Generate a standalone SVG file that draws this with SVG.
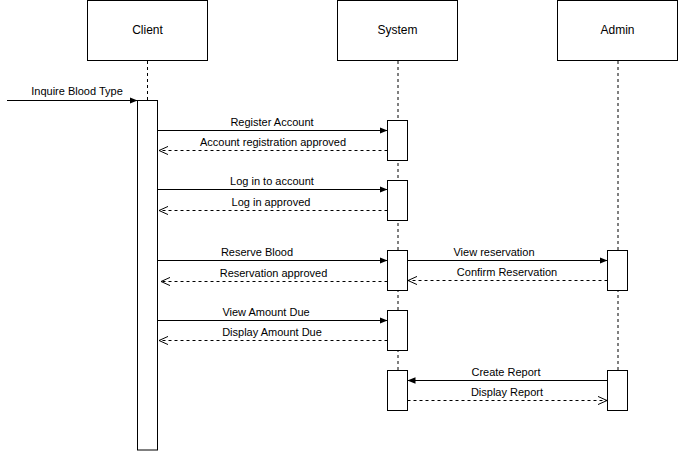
<svg xmlns="http://www.w3.org/2000/svg" width="678" height="452" viewBox="0 0 678 452">
<style>
.box{fill:#fff;stroke:#000;stroke-width:1}
.life{stroke:#000;stroke-width:1;stroke-dasharray:3 3;fill:none}
.msg{stroke:#000;stroke-width:1;fill:none}
.ret{stroke:#000;stroke-width:1;stroke-dasharray:3 3;fill:none}
.t{font-family:"Liberation Sans",Arial,sans-serif;font-size:11px;fill:#000;text-anchor:middle}
.h{font-family:"Liberation Sans",Arial,sans-serif;font-size:12px;fill:#000;text-anchor:middle}
</style>
<defs>
<marker id="block" viewBox="0 0 10 10" markerWidth="8" markerHeight="8" refX="10" refY="5" orient="auto" markerUnits="userSpaceOnUse">
<path d="M0,1 L10,5 L0,9 z" fill="#000"/>
</marker>
<marker id="open" viewBox="0 0 10 10" markerWidth="9" markerHeight="9" refX="10" refY="5" orient="auto-start-reverse" markerUnits="userSpaceOnUse">
<path d="M0,0.5 L10,5 L0,9.5" fill="none" stroke="#000" stroke-width="1.1"/>
</marker>
</defs>

<g id="client">
<rect class="box" x="87.5" y="0.5" width="120" height="60"/>
<text class="h" x="147.5" y="34">Client</text>
<line class="life" x1="147.5" y1="61" x2="147.5" y2="100"/>
<rect class="box" x="137.5" y="100.5" width="20" height="349.5"/>
</g>

<g id="system">
<rect class="box" x="337.5" y="0.5" width="120" height="60"/>
<text class="h" x="397.5" y="34">System</text>
<line class="life" x1="398" y1="61" x2="398" y2="410"/>
<rect class="box" x="387.5" y="120.5" width="20" height="40"/>
<rect class="box" x="387.5" y="180.5" width="20" height="40"/>
<rect class="box" x="387.5" y="250.5" width="20" height="40"/>
<rect class="box" x="387.5" y="310.5" width="20" height="40"/>
<rect class="box" x="387.5" y="370.5" width="20" height="40"/>
</g>

<g id="admin">
<rect class="box" x="557.5" y="0.5" width="120" height="60"/>
<text class="h" x="617.5" y="34">Admin</text>
<line class="life" x1="618" y1="61" x2="618" y2="410"/>
<rect class="box" x="607.5" y="250.5" width="20" height="40"/>
<rect class="box" x="607.5" y="370.5" width="20" height="40"/>
</g>

<g id="connectors">
<line class="msg" x1="7" y1="100.5" x2="137.5" y2="100.5" marker-end="url(#block)"/>
<text class="t" x="77" y="95">Inquire Blood Type</text>

<line class="msg" x1="157.5" y1="130.5" x2="387.5" y2="130.5" marker-end="url(#block)"/>
<text class="t" x="272" y="126">Register Account</text>
<line class="ret" x1="387.5" y1="150.5" x2="159" y2="150.5" marker-end="url(#open)"/>
<text class="t" x="273" y="146">Account registration approved</text>

<line class="msg" x1="157.5" y1="189.5" x2="387.5" y2="189.5" marker-end="url(#block)"/>
<text class="t" x="272" y="185">Log in to account</text>
<line class="ret" x1="387.5" y1="210.5" x2="159" y2="210.5" marker-end="url(#open)"/>
<text class="t" x="271" y="206">Log in approved</text>

<line class="msg" x1="157.5" y1="260.5" x2="387.5" y2="260.5" marker-end="url(#block)"/>
<text class="t" x="257" y="256">Reserve Blood</text>
<line class="ret" x1="387.5" y1="281.5" x2="161" y2="281.5" marker-end="url(#open)"/>
<text class="t" x="273.5" y="277">Reservation approved</text>

<line class="msg" x1="407.5" y1="260.5" x2="607.5" y2="260.5" marker-end="url(#block)"/>
<text class="t" x="494" y="256">View reservation</text>
<line class="ret" x1="607.5" y1="280.5" x2="408" y2="280.5" marker-end="url(#open)"/>
<text class="t" x="507" y="276">Confirm Reservation</text>

<line class="msg" x1="157.5" y1="320.5" x2="387.5" y2="320.5" marker-end="url(#block)"/>
<text class="t" x="266" y="316">View Amount Due</text>
<line class="ret" x1="387.5" y1="340.5" x2="159" y2="340.5" marker-end="url(#open)"/>
<text class="t" x="272" y="336">Display Amount Due</text>

<line class="msg" x1="607.5" y1="380.5" x2="407.5" y2="380.5" marker-end="url(#block)"/>
<text class="t" x="506" y="376">Create Report</text>
<line class="ret" x1="407.5" y1="400.5" x2="607" y2="400.5" marker-end="url(#open)"/>
<text class="t" x="507" y="396">Display Report</text>
</g>
</svg>
